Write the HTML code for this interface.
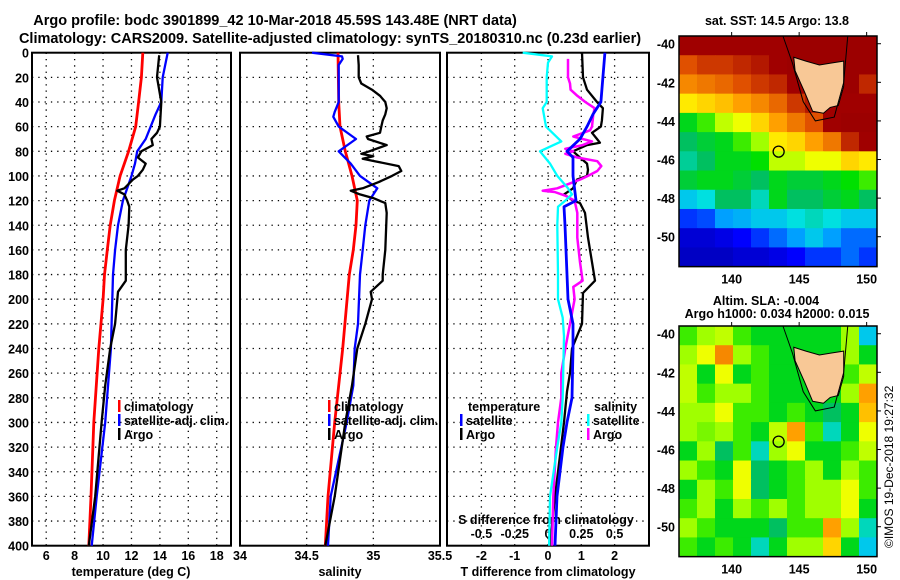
<!DOCTYPE html>
<html><head><meta charset="utf-8"><style>
html,body{margin:0;padding:0;background:#fff;}
svg{display:block;font-family:"Liberation Sans",sans-serif;font-weight:bold;}
</style></head><body>
<svg id="c" width="900" height="580" viewBox="0 0 900 580" xmlns="http://www.w3.org/2000/svg">
<text x="275" y="25" font-size="14.5" text-anchor="middle">Argo profile: bodc 3901899_42 10-Mar-2018 45.59S 143.48E (NRT data)</text>
<text x="330" y="43" font-size="14.5" text-anchor="middle">Climatology: CARS2009. Satellite-adjusted climatology: synTS_20180310.nc (0.23d earlier)</text>
<text x="777" y="25" font-size="12.5" text-anchor="middle">sat. SST: 14.5 Argo: 13.8</text>
<text x="766" y="305" font-size="12.5" text-anchor="middle">Altim. SLA: -0.004</text>
<text x="777" y="318" font-size="12.5" text-anchor="middle">Argo h1000: 0.034 h2000: 0.015</text>
<text transform="translate(893,548) rotate(-90)" font-size="12" font-weight="normal">©IMOS 19-Dec-2018 19:27:32</text>
<g id="g"></g>
</svg>
<script>
// ---------- data ----------
const depthTicks=[0,20,40,60,80,100,120,140,160,180,200,220,240,260,280,300,320,340,360,380,400];
const tempTicks=[6,8,10,12,14,16,18];
const salTicks=[34,34.5,35,35.5];
const tdiffTicks=[-2,-1,0,1,2];
const sdiffTicks=[-0.5,-0.25,0,0.25,0.5];
const sdiffLabels=["-0.5","-0.25","0","0.25","0.5"];
const lonTicks=[140,145,150];
const latTicks=[-40,-42,-44,-46,-48,-50];

const climTDepth=[0,20,40,60,80,100,120,140,160,180,200,240,300,360,400];
const climT=[12.8,12.7,12.5,12.3,11.8,11.2,10.8,10.5,10.3,10.1,10.0,9.7,9.35,9.15,9.0];
const satTDepth=[0,20,40,50,70,80,90,100,120,140,160,180,240,300,360,400];
const satT=[14.55,14.2,14.1,13.7,13.0,12.4,12.25,12.0,11.4,11.05,10.85,10.7,10.55,10.15,9.55,9.2];
const argoDepth=[2,20,40,60,65,70,75,80,85,90,95,100,103,110,112,115,120,125,140,160,180,185,194,220,240,270,300,360,400];
const argoT=[13.95,13.8,14.1,14.0,13.8,13.4,13.5,12.7,12.45,13.0,12.8,12.45,12.1,11.5,11.0,11.5,11.7,11.85,11.8,11.6,11.6,11.6,11.05,10.85,10.5,10.15,9.9,9.45,9.0];

const climS=[34.735,34.74,34.75,34.79,34.84,34.88,34.87,34.85,34.82,34.77,34.71,34.66,34.64];
const climSDepth=[0,40,60,80,100,120,140,160,180,240,300,360,400];
const satSDepth=[0,3,5,10,40,48,52,60,70,80,90,100,110,120,140,160,180,220,240,270,300,360,400];
const satS=[34.54,34.765,34.77,34.74,34.74,34.71,34.70,34.74,34.87,34.74,34.83,34.9,35.03,34.97,34.94,34.92,34.9,34.885,34.86,34.85,34.8,34.68,34.66];
const argoSDepth=[2,10,20,25,30,35,40,45,50,55,60,65,68,70,75,80,82,84,86,88,92,96,100,105,110,112,115,118,122,130,160,180,185,194,200,220,240,270,300,360,400];
const argoS=[34.885,34.89,34.89,34.91,34.99,35.05,35.09,35.1,35.09,35.07,35.06,35.05,34.95,34.96,35.1,34.97,34.91,35.0,34.92,35.01,35.19,35.21,35.14,35.04,34.92,34.83,34.9,35.0,35.09,35.1,35.09,35.07,35.07,34.98,34.99,34.94,34.88,34.84,34.79,34.71,34.64];

const dTSatDepth=[0,20,40,50,60,70,80,85,100,120,125,140,160,180,200,220,240,280,300,320,360,400];
const dTSat=[1.71,1.65,1.59,1.35,1.17,0.96,0.57,0.75,0.75,0.84,0.48,0.51,0.54,0.57,0.6,0.75,0.75,0.72,0.57,0.45,0.27,0.21];
const dTArgoDepth=[0,20,30,40,45,55,60,65,70,73,75,80,85,90,95,100,103,110,115,120,122,130,150,170,185,195,220,240,260,275,300,320,360,400];
const dTArgo=[1.02,1.05,1.17,1.47,1.65,1.62,1.59,1.32,1.47,1.56,1.17,0.75,0.96,1.17,1.2,1.17,0.87,0.75,0.48,0.75,0.96,1.11,1.2,1.32,1.41,1.05,1.02,0.72,0.66,0.57,0.48,0.39,0.21,0.06];
const dSSatDepth=[0,3,8,20,40,45,60,72,80,90,100,110,115,120,125,140,180,200,215,230,280,300,320,360,400];
const dSSat=[-0.19,0.03,0,-0.01,-0.01,-0.04,-0.015,0.1,-0.06,0.015,0.07,0.15,0.18,0.13,0.075,0.07,0.075,0.075,0.11,0.12,0.11,0.1,0.07,0.015,0.008];
const dSArgoDepth=[5,20,25,30,35,40,45,50,60,63,68,70,72,75,78,80,82,85,88,92,96,100,103,110,112,113,116,120,130,150,170,185,190,200,220,240,260,280,300,320,360,400];
const dSArgo=[0.15,0.15,0.165,0.17,0.22,0.28,0.35,0.34,0.33,0.315,0.19,0.26,0.33,0.26,0.13,0.19,0.13,0.22,0.37,0.4,0.37,0.3,0.24,0.07,-0.04,0.05,0.13,0.2,0.22,0.22,0.24,0.26,0.19,0.2,0.165,0.13,0.1,0.1,0.075,0.06,0.04,0.03];

// map grids (0..1 colour index), 11 cols x 12 rows, north to south
const sstGrid=[
[.95,.95,.95,.95,.95,.95,.97,.97,.97,.97,.97],
[.85,.88,.88,.9,.92,.95,.97,.97,.97,.97,.97],
[.78,.8,.82,.85,.88,.9,.95,.97,.97,.97,.9],
[.68,.7,.72,.75,.78,.82,.88,.92,.95,.95,.95],
[.5,.55,.62,.65,.7,.75,.8,.85,.95,.97,.97],
[.45,.48,.5,.55,.6,.68,.7,.75,.8,.9,.95],
[.42,.45,.5,.5,.52,.62,.62,.65,.65,.7,.68],
[.48,.5,.5,.48,.45,.5,.48,.48,.5,.52,.55],
[.35,.38,.45,.45,.4,.5,.45,.45,.48,.5,.45],
[.2,.22,.3,.32,.35,.35,.38,.4,.38,.35,.35],
[.1,.1,.12,.15,.2,.25,.3,.35,.3,.25,.25],
[.08,.08,.08,.1,.1,.12,.15,.2,.2,.25,.2]];
const slaGrid=[
[.55,.6,.62,.55,.5,.5,.5,.5,.5,.6,.35],
[.6,.65,.78,.6,.55,.5,.5,.5,.5,.6,.5],
[.62,.5,.65,.5,.55,.5,.5,.5,.5,.55,.62],
[.62,.55,.6,.6,.55,.5,.5,.5,.5,.6,.75],
[.6,.6,.65,.55,.55,.5,.55,.5,.45,.5,.72],
[.6,.58,.6,.55,.5,.62,.75,.55,.4,.5,.65],
[.5,.6,.45,.55,.4,.6,.65,.5,.5,.55,.62],
[.6,.55,.5,.65,.45,.5,.55,.6,.5,.6,.55],
[.5,.6,.55,.65,.45,.5,.55,.6,.6,.65,.55],
[.55,.6,.5,.6,.55,.6,.55,.6,.6,.65,.5],
[.6,.55,.5,.5,.5,.45,.55,.55,.75,.6,.4],
[.55,.5,.55,.5,.4,.5,.6,.6,.7,.5,.35]];
const tasLon=[144.6,145.5,146.5,147.4,148.3,148.3,147.9,147.3,146.8,146.0,145.4,144.7];
const tasLat=[-40.7,-40.9,-41.1,-41.0,-40.9,-42.2,-43.2,-43.3,-43.6,-43.5,-42.5,-41.4];
const contLon=[143.8,144.5,145.3,146.2,147.6,148.3,148.6];
const contLat=[-39.6,-41.0,-43.0,-44.0,-43.8,-42.0,-39.6];
const argoLon=143.48, argoLat=-45.59;

// ---------- helpers ----------
const NS="http://www.w3.org/2000/svg";
const G=document.getElementById('g');
function mk(tag,attrs,parent){const e=document.createElementNS(NS,tag);for(const k in attrs)e.setAttribute(k,attrs[k]);(parent||G).appendChild(e);return e;}
const Y0=52.7, YK=1.2325, YB=545.7;
const yD=d=>Y0+d*YK;
const xT=t=>32+(t-5)*14.21;
const xS=s=>240+(s-34)*133.33;
const xDT=v=>548+v*33.3;
const xDS=v=>548+v*133.2;
const panels=[{x0:32,x1:231,name:'temperature-panel'},{x0:240,x1:440,name:'salinity-panel'},{x0:447,x1:649,name:'difference-panel'}];
const cmapStops=[[0,[0,0,128]],[0.15,[0,0,255]],[0.3,[0,160,255]],[0.38,[0,224,224]],[0.45,[0,192,96]],[0.52,[0,224,0]],[0.6,[160,255,0]],[0.66,[255,255,0]],[0.75,[255,160,0]],[0.85,[224,80,0]],[0.95,[160,0,0]],[1,[150,0,0]]];
function cmap(v){v=Math.max(0,Math.min(1,v));
 for(let i=1;i<cmapStops.length;i++){const a=cmapStops[i-1],b=cmapStops[i];
  if(v<=b[0]){const t=(v-a[0])/(b[0]-a[0]);const c=a[1].map((x,k)=>Math.round(x+(b[1][k]-x)*t));return `rgb(${c[0]},${c[1]},${c[2]})`;}}
 return 'rgb(150,0,0)';}

// frames and grids
panels.forEach((p,i)=>{
 const fr=mk('rect',{x:p.x0,y:Y0,width:p.x1-p.x0,height:YB-Y0,fill:'none',stroke:'#000','stroke-width':2});
 
 
 depthTicks.forEach(d=>{
  if(d>0&&d<400){const l=mk('line',{x1:p.x0,x2:p.x1,y1:yD(d),y2:yD(d),stroke:'#000','stroke-width':1.3,'stroke-dasharray':'1.3 5'});
  
  }
 });
});
function vgrid(xs,fn){xs.forEach(v=>{const x=fn(v);const l=mk('line',{x1:x,x2:x,y1:Y0,y2:YB,stroke:'#000','stroke-width':1.3,'stroke-dasharray':'1.3 5'});
 
 });}
vgrid(tempTicks,xT);vgrid([34.5,35],xS);vgrid(tdiffTicks,xDT);

depthTicks.forEach(d=>{const t=mk('text',{x:29,y:yD(d)+5,'font-size':12.5,'text-anchor':'end'});t.textContent=d;
 
 });
function xlabels(ticks,fn,y,labels){ticks.forEach((v,i)=>{const t=mk('text',{x:fn(v),y:y,'font-size':12.5,'text-anchor':'middle'});t.textContent=labels?labels[i]:v;
 
 });}
xlabels(tempTicks,xT,560);xlabels(salTicks,xS,560);xlabels(tdiffTicks,xDT,560);xlabels(sdiffTicks,xDS,538,sdiffLabels);
[['temperature (deg C)',131,'temperature-axis-title'],['salinity',340,'salinity-axis-title'],['T difference from climatology',548,'t-difference-axis-title']].forEach(a=>{
 const t=mk('text',{x:a[1],y:576,'font-size':12.5,'text-anchor':'middle'});t.textContent=a[0];
 
 });
const st=mk('text',{x:546,y:524,'font-size':12.5,'text-anchor':'middle'});st.textContent='S difference from climatology';



function series(depths,vals,fx,color,name,w){
 const pts=depths.map((d,i)=>fx(vals[i]).toFixed(1)+','+yD(d).toFixed(1)).join(' ');
 const p=mk('polyline',{points:pts,fill:'none',stroke:color,'stroke-width':w||2.3,'stroke-linejoin':'round'});
 
 }
series(climTDepth,climT,xT,'#f00','temperature-climatology-line',2.8);
series(satTDepth,satT,xT,'#00f','temperature-satellite-line');
series(argoDepth,argoT,xT,'#000','temperature-argo-line');
series(climSDepth,climS,xS,'#f00','salinity-climatology-line',2.8);
series(satSDepth,satS,xS,'#00f','salinity-satellite-line');
series(argoSDepth,argoS,xS,'#000','salinity-argo-line');
series(dTArgoDepth,dTArgo,xDT,'#000','t-diff-argo-line');
series(dSArgoDepth,dSArgo,xDS,'#f0f','s-diff-argo-line',2.5);
series(dSSatDepth,dSSat,xDS,'#0ff','s-diff-satellite-line');
series(dTSatDepth,dTSat,xDT,'#00f','t-diff-satellite-line',2.8);

function legend(x,y,color,label,name){
 const b=mk('rect',{x:x,y:y-11,width:2.5,height:12,fill:color});
 
 
 const t=mk('text',{x:x+6,y:y,'font-size':12.5});t.textContent=label;
 
 }
legend(118,411,'#f00','climatology','legend-temp-climatology');
legend(118,425,'#00f','satellite-adj. clim.','legend-temp-satellite');
legend(118,439,'#000','Argo','legend-temp-argo');
legend(328,411,'#f00','climatology','legend-sal-climatology');
legend(328,425,'#00f','satellite-adj. clim.','legend-sal-satellite');
legend(328,439,'#000','Argo','legend-sal-argo');
const lt=mk('text',{x:468,y:411,'font-size':12.5});lt.textContent='temperature';


const ls=mk('text',{x:594,y:411,'font-size':12.5});ls.textContent='salinity';


legend(460,425,'#00f','satellite','legend-tdiff-satellite');
legend(460,439,'#000','Argo','legend-tdiff-argo');
legend(587,425,'#0ff','satellite','legend-sdiff-satellite');
legend(587,439,'#f0f','Argo','legend-sdiff-argo');

// ---------- maps ----------
const MX0=679,MX1=877,LON0=136.1,LON1=150.8,LAT0=-39.6,LAT1=-51.55;
const mx=lon=>MX0+(lon-LON0)*13.5;
function drawMap(grid,top,name){
 const my=lat=>top+(LAT0-lat)*19.3;
 const H=(LAT0-LAT1)*19.3;
 const defs=mk('clipPath',{id:'clip-'+name});mk('rect',{x:MX0,y:top,width:MX1-MX0,height:H},defs);
 const g=mk('g',{'clip-path':'url(#clip-'+name+')'});
 
 
 const rows=grid.length, cols=grid[0].length, cw=(MX1-MX0)/cols, ch=H/rows;
 grid.forEach((row,r)=>row.forEach((v,c)=>{
  const cell=mk('rect',{x:MX0+c*cw,y:top+r*ch,width:cw+0.6,height:ch+0.6,fill:cmap(v)},g);
  
  }));
 const land=mk('polygon',{points:tasLon.map((l,i)=>mx(l)+','+my(tasLat[i])).join(' '),fill:'#f8c896',stroke:'#000','stroke-width':1},g);
 
 
 const ct=mk('polyline',{points:contLon.map((l,i)=>mx(l)+','+my(contLat[i])).join(' '),fill:'none',stroke:'#000','stroke-width':1},g);
 
 
 const ac=mk('circle',{cx:mx(argoLon),cy:my(argoLat),r:5.5,fill:'none',stroke:'#000','stroke-width':1.3},g);
 
 
 const fr=mk('rect',{x:MX0,y:top,width:MX1-MX0,height:H,fill:'none',stroke:'#000','stroke-width':1.5});
 
 
 latTicks.forEach(l=>{const t=mk('text',{x:675,y:my(l)+5,'font-size':12.5,'text-anchor':'end'});t.textContent=l;
  
  
  mk('line',{x1:MX1,x2:MX1+4,y1:my(l),y2:my(l),stroke:'#000'});});
 lonTicks.forEach(l=>{const t=mk('text',{x:mx(l),y:top+H+17,'font-size':12.5,'text-anchor':'middle'});t.textContent=l;
  
  
  mk('line',{x1:mx(l),x2:mx(l),y1:top,y2:top-4,stroke:'#000'});});
}
drawMap(sstGrid,36,'sst-map');
drawMap(slaGrid,326,'sla-map');
</script>
</body></html>
